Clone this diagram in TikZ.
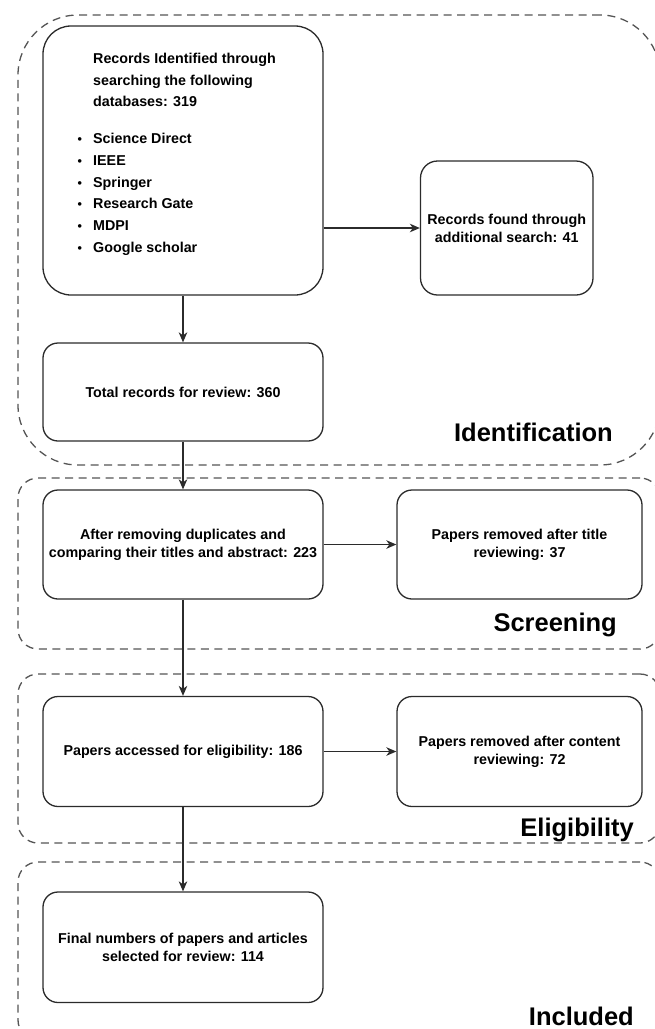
\documentclass[tikz,border=0pt]{standalone}
\usepackage{fontspec}
\setmainfont{Liberation Sans}
\usetikzlibrary{arrows.meta}
\definecolor{boxline}{HTML}{2B2B2B}
\definecolor{zoneline}{HTML}{555555}

\begin{document}
\begin{tikzpicture}[x=1pt,y=-1pt,
  stagebox/.style={draw=boxline, fill=white, line width=1.3pt, rounded corners=15pt,
    inner sep=2pt, align=center, font=\bfseries\fontsize{14.3}{18.2}\selectfont},
  zone/.style={draw=zoneline, line width=1.3pt, dash pattern=on 8pt off 5.5pt,
    inner sep=0pt, rounded corners=20pt},
  zonelabel/.style={anchor=base east, inner sep=0pt, font=\bfseries\fontsize{25.5}{30}\selectfont},
  listtext/.style={anchor=base west, inner sep=0pt},
  flow/.style={draw=boxline, line width=1.3pt, -{Stealth[length=10pt,width=8.5pt,inset=3pt]}},
]
\path[use as bounding box, clip] (0,0) rectangle (655,1029);

% dashed stage zones
\node[zone, rounded corners=60pt, minimum width=642pt, minimum height=450pt] (zid) at (339,240) {};
\node[zone, minimum width=642pt, minimum height=171pt] (zscr) at (339,563.5) {};
\node[zone, minimum width=642pt, minimum height=169pt] (zel) at (339,758.5) {};
\node[zone, minimum width=642pt, minimum height=178pt] (zin) at (339,951) {};

% stage labels
\node[zonelabel] (lblid) at (613,441.7) {Identification};
\node[zonelabel] (lblscr) at (617,631.7) {Screening};
\node[zonelabel] (lblel) at (634,836.7) {Eligibility};
\node[zonelabel] (lblin) at (634,1025) {Included};

% identification
\node[stagebox, rounded corners=28pt, minimum width=280pt, minimum height=269pt] (A) at (183,160.5) {};
\node[listtext, font=\bfseries\fontsize{14.3}{21.5}\selectfont] (srchead) at (93,63.5)
  {\begin{tabular}[t]{@{}l@{}}Records Identified through\\searching the following\\databases: 319\end{tabular}};
\node[listtext, font=\bfseries\fontsize{14.3}{21.8}\selectfont] (srclist) at (77.5,143.5)
  {\begin{tabular}[t]{@{}p{15.5pt}@{}l@{}}
   {\fontsize{12.5}{12}\selectfont •} & Science Direct\\
   {\fontsize{12.5}{12}\selectfont •} & IEEE\\
   {\fontsize{12.5}{12}\selectfont •} & Springer\\
   {\fontsize{12.5}{12}\selectfont •} & Research Gate\\
   {\fontsize{12.5}{12}\selectfont •} & MDPI\\
   {\fontsize{12.5}{12}\selectfont •} & Google scholar
   \end{tabular}};
\node[stagebox, rounded corners=17pt, minimum width=172.5pt, minimum height=134pt] (B) at (506.75,228)
  {Records found through\\additional search: 41};
\node[stagebox, minimum width=280pt, minimum height=98pt] (C) at (183,392) {Total records for review: 360};

% screening
\node[stagebox, minimum width=280pt, minimum height=109pt] (D) at (183,544.5)
  {After removing duplicates and\\comparing their titles and abstract: 223};
\node[stagebox, minimum width=245pt, minimum height=109pt] (E) at (519.5,544.5)
  {Papers removed after title\\reviewing: 37};

% eligibility
\node[stagebox, minimum width=280pt, minimum height=110pt] (F) at (183,751.5)
  {Papers accessed for eligibility: 186};
\node[stagebox, minimum width=245pt, minimum height=110pt] (G) at (519.5,751.5)
  {Papers removed after content\\reviewing: 72};

% included
\node[stagebox, minimum width=280pt, minimum height=110.5pt] (H) at (183,947.25)
  {Final numbers of papers and articles\\selected for review: 114};

% connectors
\draw[flow] (A) -- (C);
\draw[flow] (A.east |- B.west) -- (B.west);
\draw[flow] (C) -- (D);
\draw[flow] (D) -- (E);
\draw[flow] (D) -- (F);
\draw[flow] (F) -- (G);
\draw[flow] (F) -- (H);
\end{tikzpicture}
\end{document}
